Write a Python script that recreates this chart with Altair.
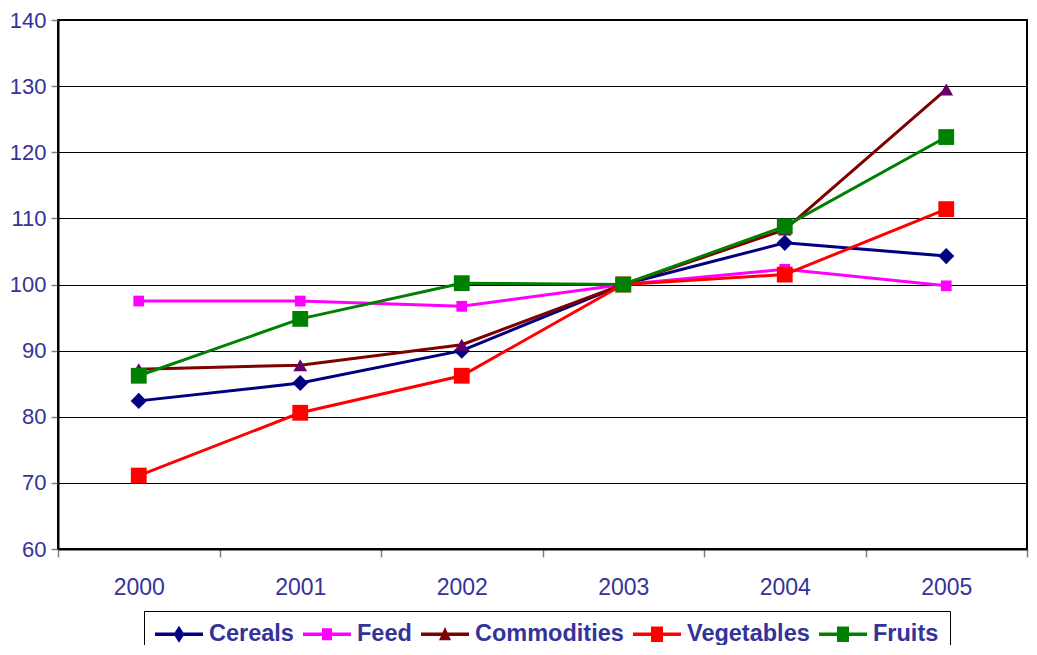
import altair as alt
import pandas as pd

years = ["2000", "2001", "2002", "2003", "2004", "2005"]
series = ["Cereals", "Feed", "Commodities", "Vegetables", "Fruits"]
cereals = [82.4, 85.1, 90.0, 100.0, 106.3, 104.3]
feed = [97.5, 97.5, 96.7, 100.0, 102.3, 99.8]
commodities = [87.2, 87.8, 90.9, 100.0, 108.3, 129.5]
vegetables = [71.1, 80.6, 86.2, 100.0, 101.5, 111.4]
fruits = [86.2, 94.8, 100.2, 100.0, 108.8, 122.3]

line_colors = ["#000080", "#FF00FF", "#800000", "#FF0000", "#008000"]
marker_colors = ["#000080", "#FF00FF", "#660066", "#FF0000", "#008000"]
marker_shapes = ["diamond", "square", "triangle-up", "square", "square"]
marker_sizes = [260, 115, 190, 250, 250]

bar = "M-2,-0.15H2V0.15H-2Z "
legend_paths = [
    bar + "M0,-0.7L0.45,0L0,0.7L-0.45,0Z",
    bar + "M-0.42,-0.5H0.42V0.5H-0.42Z",
    bar + "M0,-0.6L0.5,0.5L-0.5,0.5Z",
    bar + "M-0.5,-0.65H0.5V0.65H-0.5Z",
    bar + "M-0.5,-0.65H0.5V0.65H-0.5Z",
]

values = [cereals, feed, commodities, vegetables, fruits]
rows = []
for i, s in enumerate(series):
    for y, v in zip(years, values[i]):
        rows.append({"series": s, "year": y, "value": v,
                     "lcolor": line_colors[i], "mcolor": marker_colors[i],
                     "mshape": marker_shapes[i], "msize": marker_sizes[i]})
df = pd.DataFrame(rows)

FONT = "Liberation Sans"
LABEL = "#333399"

x_enc = alt.X("year:N",
              scale=alt.Scale(type="band", domain=years, paddingInner=0, paddingOuter=0),
              bandPosition=0.5,
              axis=alt.Axis(title=None, labelAngle=0, tickBand="extent", grid=False,
                            domainColor="black", domainWidth=2, tickColor="#808080",
                            tickSize=8, tickWidth=1.5, labelFont=FONT, labelFontSize=23,
                            labelColor=LABEL, labelPadding=19))
y_enc = alt.Y("value:Q",
              scale=alt.Scale(domain=[60, 140], nice=False, zero=False),
              axis=alt.Axis(title=None, values=list(range(60, 141, 10)), grid=True,
                            gridColor="black", gridWidth=1, domainColor="black",
                            domainWidth=2, tickColor="#808080", tickSize=7, tickWidth=1.5,
                            labelFont=FONT, labelFontSize=22, labelColor=LABEL,
                            labelPadding=5))

base = alt.Chart(df).encode(x=x_enc, y=y_enc)

lines = base.mark_line(strokeWidth=3).encode(
    stroke=alt.Stroke("lcolor:N", scale=None),
    detail="series:N",
)

points = base.mark_point(filled=True, opacity=1, strokeWidth=0).encode(
    fill=alt.Fill("mcolor:N", scale=None),
    shape=alt.Shape("mshape:N", scale=None),
    size=alt.Size("msize:Q", scale=None),
)

leg = alt.Legend(orient="none", legendX=86, legendY=591, direction="horizontal",
                 title=None, strokeColor="black", fillColor="white", padding=11,
                 symbolSize=576, symbolOffset=12, labelOffset=18, columnPadding=9,
                 symbolStrokeWidth=0, labelFont=FONT, labelFontWeight="bold",
                 labelFontSize=23.5, labelColor=LABEL, labelLimit=0)

legend_layer = base.mark_point(filled=True, opacity=1, size=0).encode(
    color=alt.Color("series:N", scale=alt.Scale(domain=series, range=line_colors), legend=leg),
    shape=alt.Shape("series:N", scale=alt.Scale(domain=series, range=legend_paths), legend=leg),
)

chart = alt.layer(lines, points, legend_layer).properties(
    width=969, height=529,
    autosize=alt.AutoSizeParams(type="none"),
    padding={"left": 50, "top": 12, "right": 2, "bottom": 96},
    background="white",
).configure_view(stroke="black", strokeWidth=2)

chart.save("out.html", embed_options={"renderer": "svg", "actions": False})
